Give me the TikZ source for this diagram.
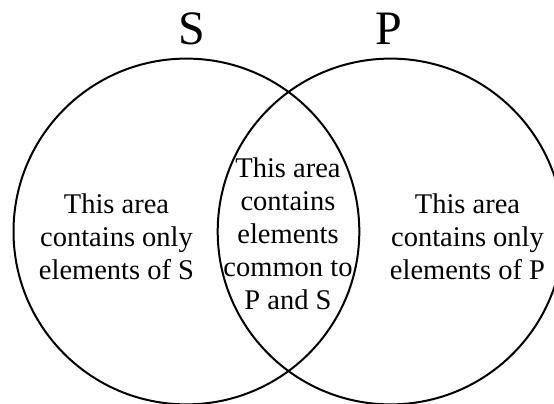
\documentclass[tikz,border=0pt]{standalone}
\usepackage{fontspec}
\setmainfont{Liberation Serif}
\begin{document}
\begin{tikzpicture}[x=1pt,y=-1pt,
  setcircle/.style={draw=black,line width=2pt},
  areatext/.style={align=center,inner sep=0pt,font=\fontsize{28.5}{33}\selectfont},
  setlabel/.style={inner sep=0pt,anchor=base,font=\fontsize{48}{50}\selectfont}]
\useasboundingbox (0,0) rectangle (554,404);
\begin{scope}
\clip (0,0) rectangle (554,404);
\draw[setcircle] (186.4,231.5) circle[radius=172.9];
\draw[setcircle] (390.6,231.5) circle[radius=172.9];
\end{scope}
\node[setlabel] (S) at (192,44.5) {S};
\node[setlabel] (P) at (389,44.5) {P};
\node[areatext] (left) at (116.5,236.5) {This area\\contains only\\elements of S};
\node[areatext] (mid) at (288,233.3) {This area\\contains\\elements\\common to\\P and S};
\node[areatext] (right) at (467.5,236.5) {This area\\contains only\\elements of P};
\end{tikzpicture}
\end{document}
